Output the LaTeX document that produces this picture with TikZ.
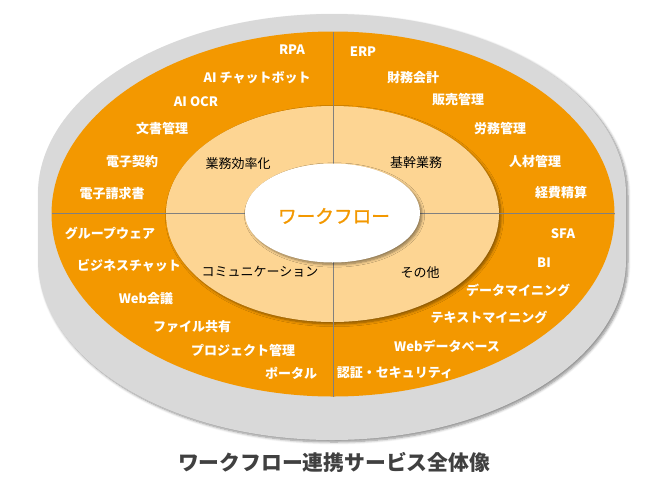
\documentclass[tikz,border=0pt]{standalone}
\usepackage{fontspec}
\setmainfont{Noto Sans CJK JP}
\newfontfamily\medfont[FakeBold=1.3]{Noto Sans CJK JP}
\usetikzlibrary{shadows.blur}
\definecolor{orng}{HTML}{F39800}
\definecolor{lite}{HTML}{FDD593}
\definecolor{gry}{HTML}{D9D9D9}
\definecolor{lin}{HTML}{808080}
\definecolor{ttl}{HTML}{404040}
\tikzset{
  wlab/.style={text=white, font=\bfseries\fontsize{9.75}{11}\selectfont, inner sep=0pt},
  blab/.style={text=black, font=\fontsize{9.75}{11}\selectfont, inner sep=0pt},
  divline/.style={draw=lin, line width=0.6pt},
  softshadow/.style={blur shadow={shadow xshift=1.5pt, shadow yshift=-1.5pt, shadow blur steps=6, shadow blur radius=2pt, shadow opacity=45}},
}
\begin{document}
\begin{tikzpicture}[x=0.75pt, y=-0.75pt]
\useasboundingbox (0,0) rectangle (666,493);
% gray base (cylinder)
\fill[gry, softshadow] (38,194) -- (38,260) arc[start angle=180, end angle=0, x radius=294, y radius=180]
   -- (626,194) arc[start angle=0, end angle=-180, x radius=294, y radius=180] -- cycle;
% orange ring
\fill[orng] (333,214) ellipse [x radius=281.5, y radius=182.5];
% light ring
\fill[lite, softshadow] (332.5,214) ellipse [x radius=166.5, y radius=108];
% dividers
\coordinate (vt) at (333,32);
\coordinate (vb) at (333,397);
\coordinate (hl) at (52,213);
\coordinate (hr) at (615,213);
\draw[divline] (vt) -- (vb);
\draw[divline] (hl) -- (hr);
% white center
\fill[white, softshadow] (332.5,213) ellipse [x radius=87.5, y radius=49.5];
\node[text=orng, font=\medfont\fontsize{14}{16}\selectfont, inner sep=0pt] (wf) at (334,216) {ワークフロー};
% middle ring labels
\node[blab] (m1) at (238,164) {業務効率化};
\node[blab] (m2) at (416,163) {基幹業務};
\node[blab] (m3) at (260,272) {コミュニケーション};
\node[blab] (m4) at (420,273) {その他};
% upper left
\node[wlab] (a1) at (292,50) {RPA};
\node[wlab] (a2) at (257,78) {AI チャットボット};
\node[wlab] (a3) at (196,102) {AI OCR};
\node[wlab] (a4) at (162,129) {文書管理};
\node[wlab] (a5) at (132,162) {電子契約};
\node[wlab] (a6) at (112,194) {電子請求書};
% upper right
\node[wlab] (b1) at (363,52) {ERP};
\node[wlab] (b2) at (413,78) {財務会計};
\node[wlab] (b3) at (458,100) {販売管理};
\node[wlab] (b4) at (500,129) {労務管理};
\node[wlab] (b5) at (535,162) {人材管理};
\node[wlab] (b6) at (561,193) {経費精算};
% lower left
\node[wlab] (c1) at (110,233) {グループウェア};
\node[wlab] (c2) at (129,266) {ビジネスチャット};
\node[wlab] (c3) at (146,299) {Web会議};
\node[wlab] (c4) at (192,327) {ファイル共有};
\node[wlab] (c5) at (243,350) {プロジェクト管理};
\node[wlab] (c6) at (291,373) {ポータル};
% lower right
\node[wlab] (d1) at (563,234) {SFA};
\node[wlab] (d2) at (544,263) {BI};
\node[wlab] (d3) at (518,290) {データマイニング};
\node[wlab] (d4) at (489,317) {テキストマイニング};
\node[wlab] (d5) at (447,346) {Webデータベース};
\node[wlab] (d6) at (395,373) {認証・セキュリティ};
% title
\node[text=ttl, font=\bfseries\fontsize{15.6}{18}\selectfont, inner sep=0pt] (title) at (334,462) {ワークフロー連携サービス全体像};
\end{tikzpicture}
\end{document}
